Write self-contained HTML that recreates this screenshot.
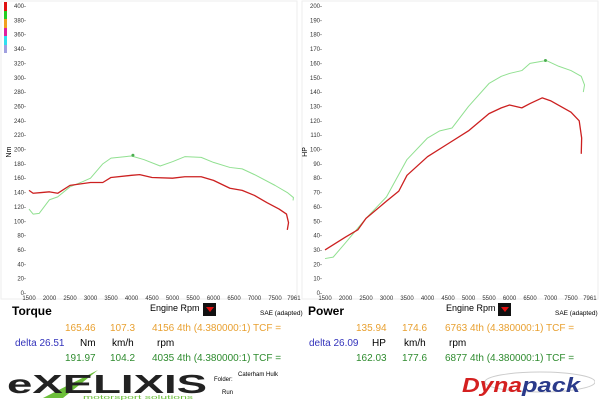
<!DOCTYPE html>
<html><head><meta charset="utf-8"><style>
body{margin:0;width:600px;height:400px;background:#fff;overflow:hidden;position:relative;font-family:"Liberation Sans",sans-serif}
.t{position:absolute;white-space:nowrap;font-size:10px;line-height:1}
.or{color:#e8a030}.gr{color:#2e8b2e}.bl{color:#3333bb}
</style></head><body>
<svg width="600" height="400" style="position:absolute;left:0;top:0">
<rect x="1" y="1" width="296" height="298" fill="none" stroke="#eee"/>
<rect x="302" y="1" width="296" height="298" fill="none" stroke="#eee"/>
<g>
<rect x="4" y="2" width="3" height="9" fill="#e01010"/><rect x="4" y="11" width="3" height="8" fill="#22cc22"/>
<rect x="4" y="19" width="3" height="9" fill="#f0a020"/><rect x="4" y="28" width="3" height="8" fill="#e020a0"/>
<rect x="4" y="36" width="3" height="9" fill="#30e0f0"/><rect x="4" y="45" width="3" height="8" fill="#a0a0e0"/>
</g>
<g id="left"></g><g id="right"></g>
</svg>
<div class="t" style="left:12px;top:305px;font-weight:bold;font-size:12px">Torque</div>
<div class="t" style="left:150px;top:304px;font-size:9px">Engine Rpm</div>
<div style="position:absolute;left:203px;top:303px;width:13px;height:13px;background:#111"><div style="margin:4px 0 0 3px;width:0;height:0;border-left:4px solid transparent;border-right:4px solid transparent;border-top:5px solid #e01010"></div></div>
<div class="t" style="left:260px;top:311px;font-size:6.5px">SAE (adapted)</div>
<div class="t or" style="left:65px;top:324px">165.46</div>
<div class="t or" style="left:110px;top:324px">107.3</div>
<div class="t or" style="left:152px;top:324px">4156 4th (4.380000:1) TCF =</div>
<div class="t bl" style="left:15px;top:339px">delta 26.51</div>
<div class="t" style="left:80px;top:339px">Nm</div>
<div class="t" style="left:112px;top:339px">km/h</div>
<div class="t" style="left:157px;top:339px">rpm</div>
<div class="t gr" style="left:65px;top:354px">191.97</div>
<div class="t gr" style="left:110px;top:354px">104.2</div>
<div class="t gr" style="left:152px;top:354px">4035 4th (4.380000:1) TCF =</div>

<div class="t" style="left:308px;top:305px;font-weight:bold;font-size:12px">Power</div>
<div class="t" style="left:446px;top:304px;font-size:9px">Engine Rpm</div>
<div style="position:absolute;left:498px;top:303px;width:13px;height:13px;background:#111"><div style="margin:4px 0 0 3px;width:0;height:0;border-left:4px solid transparent;border-right:4px solid transparent;border-top:5px solid #e01010"></div></div>
<div class="t" style="left:555px;top:311px;font-size:6.5px">SAE (adapted)</div>
<div class="t or" style="left:356px;top:324px">135.94</div>
<div class="t or" style="left:402px;top:324px">174.6</div>
<div class="t or" style="left:445px;top:324px">6763 4th (4.380000:1) TCF =</div>
<div class="t bl" style="left:309px;top:339px">delta 26.09</div>
<div class="t" style="left:372px;top:339px">HP</div>
<div class="t" style="left:404px;top:339px">km/h</div>
<div class="t" style="left:449px;top:339px">rpm</div>
<div class="t gr" style="left:356px;top:354px">162.03</div>
<div class="t gr" style="left:402px;top:354px">177.6</div>
<div class="t gr" style="left:445px;top:354px">6877 4th (4.380000:1) TCF =</div>

<svg width="210" height="32" style="position:absolute;left:3px;top:368px">
<path d="M40 30 L95 2 L60 30 Z" fill="#6cbf3a"/>
<text x="4" y="25" font-family="Liberation Sans" font-weight="bold" font-size="26" fill="#222" textLength="200" lengthAdjust="spacingAndGlyphs">eXELIXIS</text>
<text x="80" y="31" font-family="Liberation Sans" font-size="5" fill="#6cbf3a" textLength="110" lengthAdjust="spacingAndGlyphs">motorsport solutions</text>
</svg>
<div class="t" style="left:214px;top:377px;font-size:6px">Folder:</div>
<div class="t" style="left:238px;top:372px;font-size:6px">Caterham Hulk</div>
<div class="t" style="left:222px;top:390px;font-size:6px">Run</div>
<svg width="135" height="30" style="position:absolute;left:460px;top:370px">
<ellipse cx="80" cy="12" rx="55" ry="10" fill="none" stroke="#ccc"/>
<text x="2" y="22" font-family="Liberation Sans" font-weight="bold" font-style="italic" font-size="20" fill="#d42020" textLength="60" lengthAdjust="spacingAndGlyphs">Dyna</text>
<text x="62" y="22" font-family="Liberation Sans" font-weight="bold" font-style="italic" font-size="20" fill="#2a3a8a" textLength="58" lengthAdjust="spacingAndGlyphs">pack</text>
</svg>
<script>
const rpmTicks=[1500,2000,2500,3000,3500,4000,4500,5000,5500,6000,6500,7000,7500];
const torqueTicks=[0,20,40,60,80,100,120,140,160,180,200,220,240,260,280,300,320,340,360,380,400];
const powerTicks=[0,10,20,30,40,50,60,70,80,90,100,110,120,130,140,150,160,170,180,190,200];
const torqueRedRpm=[1500,1600,1800,2000,2200,2500,3000,3300,3500,4000,4200,4500,5000,5300,5700,6000,6400,6700,7000,7300,7600,7780,7830,7800];
const torqueRedNm=[143,139,140,141,139,150,154,154,161,164,165,161,160,162,162,157,146,143,136,126,117,110,98,88];
const torqueGreenRpm=[1500,1600,1750,2000,2200,2500,2800,3000,3300,3500,4000,4300,4700,5000,5300,5700,6000,6400,6700,7000,7500,7800,7950,7940];
const torqueGreenNm=[117,110,111,130,134,148,155,160,180,188,191,186,177,183,190,189,182,175,173,165,150,140,133,129];
const powerRedRpm=[1500,2000,2300,2500,3000,3300,3500,4000,4500,5000,5500,5800,6000,6300,6500,6800,7000,7500,7700,7760,7750];
const powerRedHp=[30,39,44,52,64,71,82,95,104,113,125,129,131,129,132,136,134,126,120,108,97];
const powerGreenRpm=[1500,1700,2000,2500,3000,3500,4000,4300,4600,5000,5500,5800,6000,6300,6500,6900,7200,7500,7750,7830,7800];
const powerGreenHp=[24,25,35,52,67,93,108,113,115,130,146,151,153,155,160,162,158,155,151,145,140];
function mk(t){return document.createElementNS('http://www.w3.org/2000/svg',t)}
function chart(g,x0,ymax,yticks,unit,series,hl){
  const sx=r=>x0+(r-1500)*0.041, sy=v=>293-v/ymax*287;
  yticks.forEach(v=>{const t=mk('text');t.setAttribute('x',x0-3);t.setAttribute('y',sy(v)+2);t.setAttribute('font-size','6');t.setAttribute('text-anchor','end');t.setAttribute('font-family','Liberation Sans');t.setAttribute('fill','#333');t.textContent=v+'-';
    
    g.appendChild(t);});
  rpmTicks.concat([7961]).forEach(r=>{const t=mk('text');t.setAttribute('x',sx(r));t.setAttribute('y',300);t.setAttribute('font-size','6');t.setAttribute('text-anchor','middle');t.setAttribute('font-family','Liberation Sans');t.setAttribute('fill','#333');t.textContent=r;
    
    g.appendChild(t);});
  const at=mk('text');at.setAttribute('transform',`translate(${x0-18},152) rotate(-90)`);at.setAttribute('font-size','7');at.setAttribute('font-family','Liberation Sans');at.setAttribute('text-anchor','middle');at.textContent=unit;
  
  g.appendChild(at);
  series.forEach(s=>{const p=mk('polyline');p.setAttribute('points',s.x.map((r,i)=>sx(r)+','+sy(s.y[i])).join(' '));p.setAttribute('fill','none');p.setAttribute('stroke',s.c);p.setAttribute('stroke-width',s.w);p.setAttribute('stroke-linejoin','round');
    
    g.appendChild(p);});
  const m=mk('circle');m.setAttribute('cx',sx(hl[0]));m.setAttribute('cy',sy(hl[1]));m.setAttribute('r',1.5);m.setAttribute('fill','#4caf50');
  
  g.appendChild(m);
}
chart(document.getElementById('left'),29,400,torqueTicks,'Nm',[{x:torqueGreenRpm,y:torqueGreenNm,c:'#90e090',w:1,n:'torque-run2-line'},{x:torqueRedRpm,y:torqueRedNm,c:'#cc2020',w:1.3,n:'torque-run1-line'}],[4035,191.97]);
chart(document.getElementById('right'),325,200,powerTicks,'HP',[{x:powerGreenRpm,y:powerGreenHp,c:'#90e090',w:1,n:'power-run2-line'},{x:powerRedRpm,y:powerRedHp,c:'#cc2020',w:1.3,n:'power-run1-line'}],[6877,162.03]);
</script>
</body></html>
